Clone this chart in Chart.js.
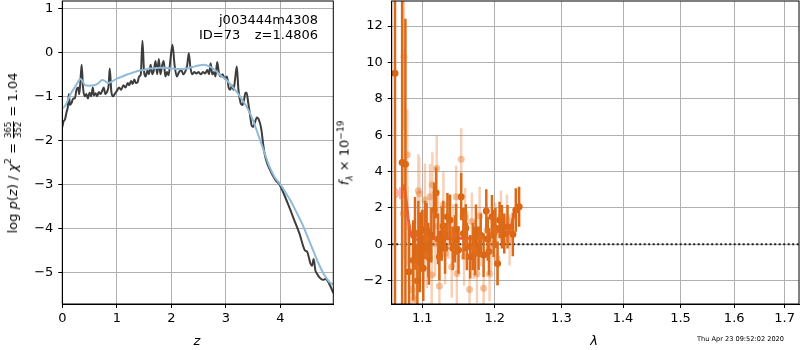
<!DOCTYPE html>
<html><head><meta charset="utf-8">
<script src="https://cdn.jsdelivr.net/npm/chart.js@4/dist/chart.umd.min.js"></script>
<style>
html,body{margin:0;padding:0;background:#fff;width:800px;height:350px;overflow:hidden;font-family:"DejaVu Sans",sans-serif;}
#wrapL{position:absolute;left:0;top:0;width:340px;height:350px;}
#wrapR{position:absolute;left:335px;top:0;width:465px;height:350px;}
.lbl{position:absolute;white-space:nowrap;font-size:13px;color:#000;line-height:1;font-family:"DejaVu Sans",sans-serif;}
.rot{transform:translate(-50%,-50%) rotate(-90deg);}
.ctr{transform:translate(-50%,-50%);}
i{font-style:italic;}
.frac{display:inline-flex;flex-direction:column;align-items:center;font-size:8.5px;vertical-align:middle;line-height:1;margin:0 1px;}
.frac span:last-child{border-top:1px solid #000;}
sup,sub{font-size:9px;line-height:0;}
</style></head>
<body>
<div id="wrapL"><canvas id="cL" width="340" height="350"></canvas></div>
<div id="wrapR"><canvas id="cR" width="465" height="350"></canvas></div>
<div class="lbl rot" style="left:13px;top:153px;">log <i>p</i>(<i>z</i>) / <i>χ</i><sup>2</sup> = <span class="frac"><span>365</span><span>352</span></span> = 1.04</div>
<div class="lbl" style="right:482px;top:13px;">j003444m4308</div>
<div class="lbl" style="left:199px;top:28px;">ID=73</div>
<div class="lbl" style="right:482px;top:28px;">z=1.4806</div>
<div class="lbl ctr" style="left:197px;top:340px;"><i>z</i></div>
<div class="lbl ctr" style="left:594px;top:340px;"><i>λ</i></div>
<div class="lbl rot" style="left:344px;top:153px;"><i>f</i><sub><i>λ</i></sub> × 10<sup>−19</sup></div>
<div class="lbl" style="left:697px;top:336px;font-size:6.6px;">Thu Apr 23 09:52:02 2020</div>
<script>
// ---- Left panel: log p(z) ----
const zDark = [0.00,0.02,0.05,0.08,0.10,0.12,0.14,0.17,0.20,0.23,0.26,0.29,0.31,0.33,0.355,0.38,0.41,0.44,0.47,0.50,0.53,0.56,0.58,0.61,0.64,0.67,0.70,0.73,0.76,0.79,0.82,0.85,0.87,0.90,0.93,0.96,1.00,1.04,1.08,1.12,1.16,1.20,1.23,1.26,1.29,1.32,1.35,1.38,1.41,1.44,1.47,1.50,1.53,1.56,1.59,1.62,1.65,1.68,1.71,1.74,1.77,1.80,1.83,1.86,1.89,1.92,1.95,1.98,2.02,2.06,2.10,2.14,2.18,2.22,2.26,2.29,2.32,2.35,2.38,2.42,2.46,2.50,2.54,2.58,2.62,2.66,2.69,2.72,2.75,2.78,2.81,2.84,2.87,2.90,2.94,2.98,3.02,3.05,3.08,3.11,3.14,3.17,3.20,3.23,3.27,3.30,3.33,3.36,3.38,3.41,3.44,3.47,3.50,3.53,3.57,3.61,3.65,3.68,3.71,3.75,3.80,3.86,3.92,3.98,4.05,4.15,4.25,4.35,4.45,4.49,4.52,4.55,4.58,4.61,4.64,4.68,4.72,4.78,4.83,4.87,4.91,4.97];
const logpDark = [-1.70,-1.58,-1.52,-1.35,-1.25,-0.95,-1.20,-1.15,-1.05,-1.05,-0.85,-0.80,-0.95,-0.70,-0.28,-0.80,-1.00,-0.95,-1.05,-0.92,-1.00,-0.80,-0.98,-0.93,-1.00,-0.90,-0.95,-0.88,-0.80,-0.95,-0.90,-0.75,-0.37,-0.90,-1.00,-0.95,-0.88,-0.80,-0.85,-0.75,-0.80,-0.70,-0.75,-0.65,-0.72,-0.62,-0.70,-0.68,-0.55,-0.50,0.26,-0.45,-0.55,-0.42,-0.50,-0.28,-0.50,-0.40,-0.20,-0.50,-0.15,-0.50,-0.30,-0.20,-0.55,-0.45,-0.52,-0.20,0.17,-0.30,-0.55,-0.45,-0.40,-0.50,-0.42,-0.30,-0.02,-0.35,-0.50,-0.45,-0.48,-0.45,-0.50,-0.45,-0.48,-0.40,-0.50,-0.25,-0.50,-0.45,-0.55,-0.22,-0.45,-0.55,-0.50,-0.60,-0.55,-0.80,-0.85,-0.75,-0.85,-0.60,-0.32,-0.85,-1.15,-1.20,-1.10,-0.92,-0.92,-1.15,-1.40,-1.65,-1.70,-1.60,-1.48,-1.55,-1.75,-2.05,-2.30,-2.50,-2.65,-2.80,-2.92,-3.00,-3.18,-3.48,-3.80,-4.12,-4.50,-4.53,-4.65,-4.80,-4.85,-4.70,-4.95,-5.05,-5.12,-5.17,-5.15,-5.20,-5.30,-5.47];
const zBlue = [0.00,0.05,0.10,0.15,0.20,0.25,0.30,0.33,0.37,0.42,0.50,0.57,0.63,0.68,0.73,0.78,0.84,0.90,1.00,1.10,1.20,1.30,1.40,1.50,1.60,1.70,1.80,1.90,2.00,2.10,2.20,2.30,2.40,2.50,2.60,2.70,2.80,2.90,3.00,3.10,3.20,3.30,3.40,3.50,3.60,3.70,3.80,3.90,4.00,4.10,4.20,4.30,4.40,4.50,4.60,4.70,4.80,4.90,4.97];
const logpBlue = [-1.27,-1.22,-1.10,-0.95,-0.85,-0.75,-0.65,-0.60,-0.65,-0.75,-0.76,-0.75,-0.73,-0.68,-0.63,-0.65,-0.70,-0.67,-0.60,-0.55,-0.50,-0.46,-0.42,-0.40,-0.37,-0.36,-0.35,-0.35,-0.37,-0.38,-0.38,-0.36,-0.33,-0.30,-0.28,-0.32,-0.40,-0.52,-0.62,-0.75,-0.90,-1.08,-1.28,-1.55,-1.90,-2.25,-2.60,-2.85,-3.00,-3.20,-3.40,-3.65,-3.90,-4.20,-4.50,-4.80,-5.05,-5.22,-5.28];
const leftXTicks = [0,1,2,3,4];
const leftYTicks = [-5,-4,-3,-2,-1,0,1];

// ---- Right panel: spectrum ----
const lamDark = [1.0645,1.0737,1.0779,1.0826,1.0881,1.0904,1.0935,1.0948,1.0969,1.1000,1.1013,1.1036,1.1057,1.1080,1.1088,1.1120,1.1157,1.1184,1.1210,1.1228,1.1259,1.1280,1.1305,1.1337,1.1373,1.1410,1.1440,1.1457,1.1489,1.1526,1.1557,1.1590,1.1605,1.1652,1.1690,1.1720,1.1732,1.1769,1.1800,1.1841,1.1879,1.1900,1.1917,1.1960,1.1984,1.2010,1.2041,1.2070,1.2104,1.2138,1.2186,1.2264,1.2308,1.2357];
const fDark = [9.41,4.50,4.40,-1.50,-0.87,0.60,-2.00,0.60,-0.44,0.20,-1.32,0.80,0.79,-0.31,-0.72,0.50,1.89,2.84,0.30,-0.68,0.60,1.00,-0.22,1.52,1.34,-0.22,0.30,0.83,-0.31,2.62,0.60,0.90,-0.13,-0.68,-0.13,-0.50,0.79,-0.22,0.50,-0.59,1.83,0.30,-0.40,1.52,0.60,0.90,-1.05,1.34,0.97,0.60,0.97,0.55,1.89,2.07];
const errDark = [30,9.0,8.0,2.5,2.2,2.0,2.0,1.8,2.2,1.7,1.8,1.6,1.5,1.5,1.5,1.5,1.5,1.4,1.4,1.3,1.5,1.4,1.4,1.3,1.4,1.2,1.3,1.4,1.3,1.3,1.4,1.3,1.3,1.2,1.3,1.2,1.4,1.2,1.2,1.2,1.2,1.2,1.3,1.2,1.3,1.1,1.2,1.0,1.2,1.1,1.2,1.2,1.2,1.1];
const lamLight = [1.0751,1.0760,1.0803,1.0810,1.0860,1.0900,1.0926,1.0948,1.0960,1.1035,1.1050,1.1060,1.1102,1.1125,1.1134,1.1170,1.1192,1.1210,1.1228,1.1282,1.1305,1.1350,1.1396,1.1420,1.1457,1.1466,1.1526,1.1566,1.1580,1.1610,1.1642,1.1675,1.1700,1.1746,1.1784,1.1800,1.1841,1.1888,1.1926,1.1950,1.2009,1.2032,1.2090,1.2177,1.2216];
const fLight = [1.70,10.30,4.92,1.00,-2.50,-3.00,-1.23,2.95,2.77,2.44,0.30,-0.60,2.62,-1.69,3.27,0.05,4.18,1.00,-2.29,2.17,-0.50,0.90,-1.23,0.50,2.62,-1.60,4.68,-0.68,1.50,0.20,-2.48,1.25,-0.30,-1.63,1.56,0.30,-2.42,0.79,-1.63,0.00,0.79,-0.77,1.56,1.34,0.24];
const errLight = [2.5,4.0,2.5,2.2,2.5,2.2,2.0,2.0,2.0,2.0,1.8,1.8,1.8,1.7,1.8,1.8,1.8,1.7,1.7,1.8,1.7,1.7,1.7,1.7,1.7,1.7,1.7,1.6,1.6,1.6,1.6,1.6,1.6,1.6,1.6,1.5,1.5,1.5,1.5,1.5,1.5,1.5,1.4,1.4,1.4];
const lamModel = [1.0751,1.0775,1.0795,1.0815,1.0838,1.0860,1.0882,1.0920,1.1000,1.1200,1.1400,1.1600,1.1800,1.1935,1.1982,1.2055,1.2128,1.2178,1.2227,1.2265,1.2300,1.2355];
const fModel = [3.30,2.90,2.20,1.40,0.80,0.45,0.32,0.28,0.30,0.32,0.33,0.33,0.34,0.40,0.47,0.79,0.60,0.48,0.79,1.40,1.89,2.10];
const starLam = [1.0709];
const starF = [2.81];
const rightXTicks = [1.1,1.2,1.3,1.4,1.5,1.6,1.7];
const rightYTicks = [-2,0,2,4,6,8,10,12];

const FONT = {family:'"DejaVu Sans", sans-serif', size:13};
const frame = {id:'frame', afterDatasetsDraw(c){const a=c.chartArea,x=c.ctx;x.save();x.strokeStyle='#000';x.lineWidth=1;x.strokeRect(a.left,a.top,a.right-a.left,a.bottom-a.top);x.restore();}};
function pts(xs, ys){return xs.map((v,i)=>({x:v,y:ys[i]}));}
function errSegs(xs, ys, es){const o=[];xs.forEach((v,i)=>{o.push({x:v,y:ys[i]-es[i]},{x:v,y:ys[i]+es[i]},{x:v,y:null});});return o;}
function axis(min,max,ticks,fmt,size,isX,type){
  return {type:type||'linear',min:min,max:max,bounds:'data',
    afterBuildTicks:s=>{s.ticks=ticks.map(v=>({value:v}));},
    afterFit:s=>{if(isX)s.height=size;else s.width=size;s.paddingTop=0;s.paddingBottom=0;s.paddingLeft=0;s.paddingRight=0;},
    ticks:{color:'#000',font:FONT,padding:isX?3:5,maxRotation:0,autoSkip:false,callback:fmt},
    grid:{color:'#b0b0b0',tickColor:'#000',tickLength:4,lineWidth:1},
    border:{color:'#000',width:1}};
}
const minus = v => String(v).replace('-','\u2212');

new Chart(document.getElementById('cL'),{
  type:'line',
  data:{datasets:[
    {data:pts(zBlue,logpBlue),borderColor:'#8fbbd9',borderWidth:2,pointRadius:0,cubicInterpolationMode:'monotone',clip:0},
    {data:pts(zDark,logpDark),borderColor:'rgba(45,45,45,0.92)',borderWidth:2,pointRadius:0,cubicInterpolationMode:'monotone',clip:0}
  ]},
  options:{animation:false,responsive:false,events:[],
    plugins:{legend:{display:false},tooltip:{enabled:false}},
    layout:{autoPadding:false,padding:{top:1,right:6.7,left:0,bottom:0}},
    scales:{
      x:axis(0,4.97,leftXTicks,v=>minus(v),46,true),
      y:axis(-5.72,1.166,leftYTicks,v=>minus(v),62.3,false)
    }},
  plugins:[frame]
});

new Chart(document.getElementById('cR'),{
  type:'line',
  data:{datasets:[
    {data:errSegs(lamLight,fLight,errLight),borderColor:'rgba(230,115,35,0.33)',borderWidth:2.5,pointRadius:0,spanGaps:false,clip:0},
    {data:pts(lamLight,fLight),showLine:false,pointRadius:3.5,pointBorderWidth:0,pointBackgroundColor:'rgba(230,115,35,0.42)',clip:0},
    {data:errSegs(lamDark,fDark,errDark),borderColor:'rgb(218,104,22)',borderWidth:2.5,pointRadius:0,spanGaps:false,clip:0},
    {data:pts(lamDark,fDark),showLine:false,pointRadius:3.5,pointBorderWidth:0,pointBackgroundColor:'rgb(218,100,15)',clip:0},
    {data:pts(lamModel,fModel),borderColor:'rgba(255,25,10,0.75)',borderWidth:3,pointRadius:0,tension:0,clip:0},
    {data:pts(starLam,starF),showLine:false,pointStyle:'star',pointRadius:6,pointBorderWidth:2,pointBorderColor:'rgba(255,110,120,0.55)',clip:0},
    {data:[{x:1.0603,y:0},{x:1.7295,y:0}],borderColor:'#222',borderWidth:2,borderDash:[2,2.5],pointRadius:0,clip:0}
  ]},
  options:{animation:false,responsive:false,events:[],
    plugins:{legend:{display:false},tooltip:{enabled:false}},
    layout:{autoPadding:false,padding:{top:1,right:1,left:0,bottom:0}},
    scales:{
      x:axis(1.0603,1.7295,rightXTicks,v=>Number(v).toFixed(1),46,true,'logarithmic'),
      y:axis(-3.28,13.38,rightYTicks,v=>minus(v),56.7,false)
    }},
  plugins:[frame]
});
</script>
</body></html>
